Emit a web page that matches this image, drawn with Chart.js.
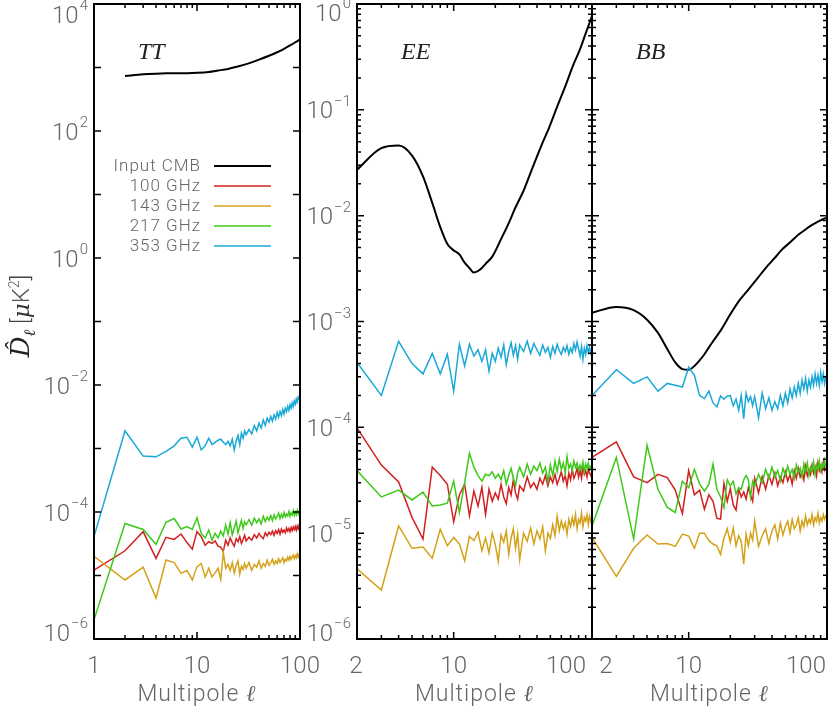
<!DOCTYPE html>
<html><head><meta charset="utf-8">
<script src="https://cdn.jsdelivr.net/npm/chart.js@4"></script>
<style>
html,body{margin:0;padding:0;background:#fff;}
#wrap{position:relative;width:830px;height:710px;overflow:hidden;background:#fff;}
#wrap canvas{position:absolute;left:0;top:0;}
</style></head><body>
<div id="wrap">
<canvas id="cTT" width="830" height="710"></canvas>
<canvas id="cEE" width="830" height="710"></canvas>
<canvas id="cBB" width="830" height="710"></canvas>
</div>
<script>
// ---------------- DATA ----------------
const seriesNames = ['Input CMB','100 GHz','143 GHz','217 GHz','353 GHz'];
const panelNames = ['TT','EE','BB'];
const xAxisTitle = 'Multipole ';
const ellSymbol = 'ℓ';

const ellTT = [1,2,3,4,5,6,7,8,9,10,11,12,13,14,15,16,17,18,19,20,21,22,23,24,25,26,27,28,29,30,
  32,34,36,38,40,42,44,46,48,50,52,54,56,58,60,62,64,66,68,70,72,74,76,78,80,82,84,86,88,90,92,94,96,98,100];
const ellPol = [2,3,4,5,6,7,8,9,10,11,12,13,14,15,16,17,18,19,20,21,22,23,24,25,26,27,28,29,30,
  32,34,36,38,40,42,44,46,48,50,52,54,56,58,60,62,64,66,68,70,72,74,76,78,80,82,84,86,88,90,92,94,96,98,100];

const ellCmbTT = [2,3,4,5,6,8,10,13,16,20,25,30,40,50,60,70,80,90,100];
const cmbTT = [735,780,800,810,812,815,825,850,895,950,1040,1130,1330,1530,1740,1970,2230,2500,2780];
const ellCmbEE = [2,3,4,5,6,7,8,9,10,11,12,13,14,15,16,17,19,22,25,28,32,37,43,49,56,65,73,81,90,100];
const cmbEE = [0.0272,0.0435,0.046,0.037,0.0235,0.0132,0.0078,0.0054,0.0047,0.0043,
  0.0036,0.0032,0.0029,0.0030,0.0032,0.0035,0.0041,0.0060,0.0085,0.012,
  0.0172,0.028,0.0457,0.068,0.107,0.175,0.263,0.36,0.527,0.77];
const ellCmbBB = [2,3,4,5,6,7,8,9,10,11,12,13,14,15,17,20,23,27,31,36,42,47,55,62,70,77,86,96,100];
const cmbBB = [1.21e-3,1.37e-3,1.28e-3,1.04e-3,7.8e-4,5.5e-4,4.1e-4,3.55e-4,3.5e-4,3.8e-4,4.3e-4,4.9e-4,5.7e-4,6.5e-4,
  8.2e-4,1.17e-3,1.55e-3,2.0e-3,2.5e-3,3.2e-3,4.0e-3,4.75e-3,5.7e-3,6.6e-3,7.4e-3,8.1e-3,8.8e-3,9.4e-3,9.6e-3];

// TT noise
const tt100 = [1.22e-5,2.45e-5,4.9e-5,1.86e-5,4.0e-5,3.7e-5,4.5e-5,3.3e-5,2.6e-5,4.9e-5,
  4.1e-5,3.0e-5,3.4e-5,3.2e-5,3.5e-5,2.9e-5,2.8e-5,2.4e-5,3.6e-5,3.0e-5,
  3.9e-5,3.3e-5,2.9e-5,3.8e-5,3.4e-5,4.1e-5,3.2e-5,3.7e-5,4.3e-5,3.5e-5,
  4.0e-5,3.6e-5,4.4e-5,3.9e-5,4.6e-5,4.1e-5,3.8e-5,4.7e-5,4.2e-5,4.8e-5,
  4.4e-5,5.0e-5,4.3e-5,5.1e-5,4.6e-5,5.3e-5,4.5e-5,5.4e-5,4.8e-5,5.2e-5,
  4.7e-5,5.6e-5,5.0e-5,5.5e-5,4.9e-5,5.7e-5,5.1e-5,5.8e-5,5.3e-5,5.9e-5,
  5.2e-5,6.0e-5,5.4e-5,6.1e-5,5.6e-5];
const tt143 = [2.0e-5,8.5e-6,1.35e-5,4.4e-6,1.75e-5,1.6e-5,1.08e-5,1.2e-5,8.5e-6,1.38e-5,
  1.55e-5,9.5e-6,1.3e-5,9.5e-6,1.1e-5,1.3e-5,8.7e-6,2.3e-5,1.3e-5,1.5e-5,
  1.2e-5,1.6e-5,1.1e-5,1.45e-5,1.7e-5,1.05e-5,1.4e-5,1.25e-5,1.55e-5,1.3e-5,
  1.6e-5,1.2e-5,1.5e-5,1.35e-5,1.7e-5,1.3e-5,1.55e-5,1.4e-5,1.75e-5,1.45e-5,
  1.6e-5,1.8e-5,1.5e-5,1.7e-5,1.55e-5,1.85e-5,1.6e-5,1.75e-5,1.9e-5,1.6e-5,
  1.8e-5,1.7e-5,1.95e-5,1.75e-5,2.0e-5,1.8e-5,1.95e-5,2.1e-5,1.85e-5,2.05e-5,
  1.9e-5,2.2e-5,1.95e-5,2.15e-5,2.1e-5];
const tt217 = [2.0e-6,6.6e-5,5.3e-5,3.1e-5,6.9e-5,7.9e-5,5.4e-5,5.9e-5,5.3e-5,8.1e-5,
  4.6e-5,3.9e-5,5.2e-5,3.6e-5,4.6e-5,3.9e-5,5.0e-5,4.2e-5,6.2e-5,4.5e-5,
  6.8e-5,4.4e-5,5.6e-5,7.2e-5,4.7e-5,6.0e-5,7.4e-5,5.5e-5,7.0e-5,6.3e-5,
  7.6e-5,6.2e-5,8.0e-5,6.8e-5,7.8e-5,6.5e-5,8.6e-5,7.1e-5,8.3e-5,7.4e-5,
  8.8e-5,7.3e-5,9.0e-5,7.8e-5,8.5e-5,9.6e-5,7.9e-5,9.2e-5,8.2e-5,9.8e-5,
  8.4e-5,9.3e-5,8.7e-5,1.02e-4,8.6e-5,9.7e-5,9.0e-5,1.05e-4,8.9e-5,1.0e-4,
  9.1e-5,1.06e-4,9.3e-5,1.02e-4,9.5e-5];
const tt353 = [4.1e-5,1.9e-3,7.6e-4,7.4e-4,9.0e-4,1.1e-3,1.45e-3,1.5e-3,1.05e-3,1.5e-3,
  9.5e-4,1.1e-3,1.45e-3,1.15e-3,1.25e-3,1.35e-3,1.4e-3,1.25e-3,1.15e-3,1.3e-3,
  1.1e-3,1.4e-3,9.5e-4,1.3e-3,1.6e-3,1.15e-3,1.75e-3,1.45e-3,1.9e-3,1.65e-3,
  2.0e-3,1.7e-3,2.3e-3,1.9e-3,2.5e-3,2.1e-3,2.8e-3,2.3e-3,3.0e-3,2.6e-3,
  3.2e-3,2.7e-3,3.4e-3,2.9e-3,3.7e-3,3.1e-3,3.8e-3,3.3e-3,4.1e-3,3.5e-3,
  4.3e-3,3.8e-3,4.6e-3,4.0e-3,4.9e-3,4.3e-3,5.2e-3,4.6e-3,5.6e-3,5.0e-3,
  6.0e-3,5.4e-3,6.4e-3,6.0e-3,7.0e-3];

// EE noise
const ee100 = [9.9e-5,4.4e-5,3.05e-5,1.41e-5,8.8e-6,4.2e-5,3.5e-5,2.9e-5,1.28e-5,
  2.3e-5,2.9e-5,1.46e-5,2.5e-5,1.8e-5,2.7e-5,1.5e-5,2.6e-5,2.0e-5,2.4e-5,
  2.1e-5,2.9e-5,2.2e-5,1.9e-5,2.7e-5,2.3e-5,3.2e-5,2.4e-5,2.1e-5,2.8e-5,
  2.5e-5,3.4e-5,2.7e-5,3.0e-5,2.6e-5,3.3e-5,2.9e-5,3.5e-5,2.8e-5,3.4e-5,
  3.0e-5,3.6e-5,2.9e-5,3.3e-5,3.8e-5,3.1e-5,3.5e-5,2.8e-5,3.7e-5,3.2e-5,
  4.0e-5,3.3e-5,3.6e-5,4.1e-5,3.4e-5,3.9e-5,3.3e-5,4.2e-5,3.6e-5,3.9e-5,
  3.4e-5,4.0e-5,3.7e-5,3.5e-5,3.8e-5];
const ee143 = [4.6e-6,2.9e-6,1.17e-5,7.2e-6,7.4e-6,5.8e-6,1.09e-5,7.6e-6,9.1e-6,
  7.9e-6,5.5e-6,9.3e-6,8.5e-6,1.02e-5,6.8e-6,9.0e-6,6.5e-6,1.0e-5,7.8e-6,
  5.4e-6,9.6e-6,8.2e-6,1.05e-5,6.3e-6,9.0e-6,1.1e-5,7.2e-6,9.8e-6,5.6e-6,
  1.0e-5,8.4e-6,1.12e-5,7.9e-6,1.05e-5,8.8e-6,1.15e-5,6.8e-6,1.0e-5,8.9e-6,
  1.2e-5,9.5e-6,1.45e-5,1.05e-5,1.3e-5,1.1e-5,1.25e-5,9.8e-6,1.35e-5,1.15e-5,
  1.4e-5,1.2e-5,1.5e-5,1.1e-5,1.35e-5,1.25e-5,1.55e-5,1.15e-5,1.4e-5,1.3e-5,
  1.5e-5,1.2e-5,1.45e-5,1.3e-5,1.4e-5];
const ee217 = [3.9e-5,2.2e-5,2.55e-5,2.06e-5,2.45e-5,1.81e-5,1.85e-5,1.92e-5,3.1e-5,
  1.57e-5,3.0e-5,5.7e-5,4.2e-5,3.5e-5,3.1e-5,3.6e-5,3.5e-5,3.8e-5,3.3e-5,
  3.6e-5,3.2e-5,3.9e-5,2.9e-5,3.5e-5,4.1e-5,3.3e-5,2.8e-5,3.7e-5,4.2e-5,
  3.4e-5,4.5e-5,3.6e-5,4.3e-5,3.9e-5,4.6e-5,3.7e-5,4.2e-5,3.1e-5,4.4e-5,
  3.5e-5,4.8e-5,3.8e-5,5.0e-5,4.0e-5,4.6e-5,3.7e-5,5.3e-5,4.1e-5,4.5e-5,
  3.9e-5,4.8e-5,4.2e-5,4.6e-5,3.9e-5,4.4e-5,4.0e-5,4.7e-5,3.8e-5,4.5e-5,
  4.1e-5,4.6e-5,4.0e-5,4.3e-5,4.2e-5];
const ee353 = [4.1e-4,2.0e-4,6.5e-4,4.0e-4,3.2e-4,5.0e-4,3.2e-4,4.9e-4,2.2e-4,
  6.1e-4,3.8e-4,6.1e-4,4.7e-4,5.4e-4,4.2e-4,5.4e-4,3.4e-4,5.0e-4,4.2e-4,
  5.6e-4,4.6e-4,6.0e-4,3.9e-4,5.2e-4,6.3e-4,4.8e-4,5.9e-4,4.4e-4,6.0e-4,
  5.2e-4,6.5e-4,5.0e-4,6.2e-4,5.4e-4,4.8e-4,6.0e-4,5.1e-4,5.7e-4,4.6e-4,
  5.8e-4,5.0e-4,6.1e-4,5.3e-4,4.9e-4,5.7e-4,5.2e-4,5.9e-4,4.9e-4,5.6e-4,
  5.1e-4,6.2e-4,5.4e-4,6.4e-4,5.5e-4,4.7e-4,5.8e-4,4.4e-4,5.6e-4,4.9e-4,
  5.9e-4,5.1e-4,5.7e-4,5.0e-4,5.5e-4];

// BB noise
const bb100 = [5.2e-5,7.3e-5,3.4e-5,3.0e-5,3.6e-5,3.35e-5,2.55e-5,1.53e-5,3.9e-5,
  2.3e-5,2.55e-5,1.68e-5,2.3e-5,2.0e-5,1.38e-5,1.36e-5,2.95e-5,2.0e-5,2.64e-5,
  1.84e-5,1.65e-5,2.6e-5,2.2e-5,2.45e-5,2.1e-5,2.7e-5,2.3e-5,2.0e-5,3.3e-5,
  2.4e-5,3.4e-5,2.6e-5,3.5e-5,2.9e-5,3.7e-5,2.8e-5,3.4e-5,3.0e-5,3.8e-5,
  3.1e-5,3.6e-5,2.9e-5,3.9e-5,3.3e-5,4.1e-5,3.4e-5,3.8e-5,3.2e-5,4.3e-5,
  3.5e-5,4.0e-5,3.6e-5,4.4e-5,3.7e-5,4.2e-5,3.5e-5,4.6e-5,3.9e-5,4.3e-5,
  3.8e-5,4.7e-5,4.0e-5,4.5e-5,4.6e-5];
const bb143 = [9.1e-6,3.9e-6,7.2e-6,9.6e-6,7.9e-6,8.0e-6,7.5e-6,9.8e-6,9.4e-6,
  7.2e-6,1.0e-5,1.0e-5,8.5e-6,7.9e-6,7.6e-6,6.3e-6,9.0e-6,1.1e-5,8.2e-6,
  1.12e-5,7.6e-6,9.5e-6,8.3e-6,5.1e-6,9.8e-6,7.6e-6,1.0e-5,8.6e-6,1.3e-5,
  7.5e-6,9.5e-6,1.1e-5,8.0e-6,1.05e-5,1.2e-5,8.8e-6,1.25e-5,9.6e-6,1.15e-5,
  1.3e-5,1.0e-5,1.35e-5,1.1e-5,1.2e-5,1.4e-5,1.05e-5,1.3e-5,1.15e-5,1.45e-5,
  1.2e-5,1.35e-5,1.25e-5,1.5e-5,1.2e-5,1.4e-5,1.3e-5,1.55e-5,1.25e-5,1.4e-5,
  1.3e-5,1.5e-5,1.35e-5,1.45e-5,1.4e-5];
const bb217 = [1.17e-5,5.2e-5,8.8e-6,6.8e-5,2.6e-5,1.75e-5,1.57e-5,3.1e-5,2.7e-5,
  4.0e-5,2.9e-5,2.5e-5,2.9e-5,4.5e-5,2.6e-5,2.2e-5,1.75e-5,3.2e-5,2.8e-5,
  3.1e-5,2.35e-5,2.7e-5,2.6e-5,3.2e-5,3.5e-5,3.2e-5,2.2e-5,3.1e-5,2.8e-5,
  3.6e-5,3.0e-5,4.0e-5,3.3e-5,4.2e-5,3.4e-5,3.9e-5,3.1e-5,4.1e-5,3.5e-5,
  4.3e-5,3.6e-5,4.0e-5,3.3e-5,4.4e-5,3.7e-5,4.1e-5,3.4e-5,4.5e-5,3.8e-5,
  4.6e-5,3.5e-5,4.2e-5,3.9e-5,4.7e-5,3.6e-5,4.4e-5,4.0e-5,4.8e-5,3.9e-5,
  4.5e-5,4.2e-5,4.9e-5,4.1e-5,4.4e-5];
const bb353 = [2.0e-4,3.5e-4,2.6e-4,3.0e-4,2.2e-4,2.6e-4,2.5e-4,2.4e-4,3.7e-4,
  3.1e-4,2.0e-4,1.87e-4,2.2e-4,1.7e-4,1.56e-4,1.98e-4,1.84e-4,1.98e-4,2.0e-4,
  1.6e-4,1.85e-4,1.45e-4,2.0e-4,1.21e-4,2.1e-4,1.75e-4,1.95e-4,1.6e-4,1.95e-4,
  1.23e-4,2.1e-4,1.5e-4,1.9e-4,1.45e-4,1.75e-4,1.5e-4,2.0e-4,1.6e-4,2.1e-4,
  1.7e-4,2.3e-4,1.9e-4,2.4e-4,2.0e-4,2.6e-4,2.1e-4,2.8e-4,2.3e-4,2.9e-4,
  2.2e-4,2.8e-4,2.4e-4,3.0e-4,2.5e-4,3.2e-4,2.6e-4,3.1e-4,2.5e-4,3.3e-4,
  2.7e-4,3.2e-4,2.6e-4,3.0e-4,2.9e-4];

// tick labels
const yLabelExpTT = [-6,-4,-2,0,2,4];
const yLabelExpPol = [-6,-5,-4,-3,-2,-1,0];
const yLabelExpNone = [];
const xLabelValTT = [1,10,100];
const xLabelTxtTT = ['1','10','100'];
const xLabelValPol = [2,10,100];
const xLabelTxtPol = ['2','10','100'];

// ---------------- STYLE ----------------
const seriesColors = ['#000000','#d21f1f','#d4a21a','#3ec81a','#1aa8d6'];
const LABEL_COLOR = '#666666';
const SANS = 'Roboto, "Liberation Sans", sans-serif';

const panels = [
  {id:'cTT', left:94, right:300, xMin:1, xMax:100, yMin:1e-6, yMax:1e4, yMinor:false, labelTopPad:10,
   title:panelNames[0], legend:true, yTitle:true, yLab:yLabelExpTT, xVal:xLabelValTT, xTxt:xLabelTxtTT, xDx:[0,0,0],
   cmb:[ellCmbTT,cmbTT], noise:[[ellTT,tt100],[ellTT,tt143],[ellTT,tt217],[ellTT,tt353]]},
  {id:'cEE', left:357, right:592, xMin:2, xMax:100, yMin:1e-6, yMax:1, yMinor:true, labelTopPad:8,
   title:panelNames[1], legend:false, yTitle:false, yLab:yLabelExpPol, xVal:xLabelValPol, xTxt:xLabelTxtPol, xDx:[-1,0,-26],
   cmb:[ellCmbEE,cmbEE], noise:[[ellPol,ee100],[ellPol,ee143],[ellPol,ee217],[ellPol,ee353]]},
  {id:'cBB', left:592, right:827, xMin:2, xMax:100, yMin:1e-6, yMax:1, yMinor:true, labelTopPad:8,
   title:panelNames[2], legend:false, yTitle:false, yLab:yLabelExpNone, xVal:xLabelValPol, xTxt:xLabelTxtPol, xDx:[14,0,-21],
   cmb:[ellCmbBB,cmbBB], noise:[[ellPol,bb100],[ellPol,bb143],[ellPol,bb217],[ellPol,bb353]]}
];

function pts(ells, vals){ return ells.map((l,i)=>({x:l, y:vals[i]})); }

function logTicks(min, max, minor){
  const out = [];
  const d0 = Math.floor(Math.log10(min)-1e-9), d1 = Math.ceil(Math.log10(max)+1e-9);
  for (let d=d0; d<=d1; d++){
    for (let m=1; m<=9; m++){
      if (!minor && m>1) continue;
      const v = m*Math.pow(10,d);
      if (v >= min*0.999 && v <= max*1.001) out.push({value:v, major:m===1});
    }
  }
  return out;
}

function setSpacing(ctx, s){ if ('letterSpacing' in ctx) ctx.letterSpacing = s; }

function drawPow(ctx, xr, yc, exp){
  const e = exp < 0 ? '\u2212' + Math.abs(exp) : String(exp);
  setSpacing(ctx, '0px');
  ctx.font = '300 24px ' + SANS;
  const w1 = ctx.measureText('10').width;
  ctx.font = '300 15px ' + SANS;
  const w2 = ctx.measureText(e).width;
  ctx.textAlign = 'left'; ctx.textBaseline = 'alphabetic';
  ctx.fillStyle = LABEL_COLOR;
  ctx.font = '300 24px ' + SANS;
  ctx.fillText('10', xr - w2 - w1 - 1, yc + 8.5);
  ctx.font = '300 15px ' + SANS;
  ctx.fillText(e, xr - w2, yc - 4);
}

function makeDeco(p, idx){
  return {
    id: 'deco' + idx,
    afterDraw(chart){
      const ctx = chart.ctx, a = chart.chartArea, x = chart.scales.x, y = chart.scales.y;
      ctx.save();
      // tick marks (inside, all four sides)
      ctx.strokeStyle = '#000'; ctx.lineWidth = 1.5; ctx.lineCap = 'butt';
      ctx.beginPath();
      for (const t of x.ticks){
        const px = x.getPixelForValue(t.value);
        const L = t.major ? 7 : 4;
        ctx.moveTo(px, a.bottom); ctx.lineTo(px, a.bottom - L);
        ctx.moveTo(px, a.top); ctx.lineTo(px, a.top + L);
      }
      for (const t of y.ticks){
        const py = y.getPixelForValue(t.value);
        const L = t.major ? 7 : 4;
        ctx.moveTo(a.left, py); ctx.lineTo(a.left + L, py);
        ctx.moveTo(a.right, py); ctx.lineTo(a.right - L, py);
      }
      ctx.stroke();
      // frame
      ctx.lineWidth = 2;
      ctx.strokeRect(a.left, a.top, a.right - a.left, a.bottom - a.top);

      // y tick labels
      for (const ex of p.yLab){
        const py = y.getPixelForValue(Math.pow(10, ex));
        const yc = Math.min(Math.max(py, a.top + p.labelTopPad), a.bottom - 7);
        drawPow(ctx, a.left - 6, yc, ex);
      }
      // x tick labels
      setSpacing(ctx, '0px');
      ctx.fillStyle = LABEL_COLOR; ctx.textAlign = 'center'; ctx.textBaseline = 'alphabetic';
      ctx.font = '300 24px ' + SANS;
      p.xVal.forEach((v,i)=>{
        const px = x.getPixelForValue(v) + p.xDx[i];
        ctx.fillText(p.xTxt[i], px, 673);
      });
      // x axis title
      const cx = (a.left + a.right)/2;
      setSpacing(ctx, '1px');
      ctx.font = '300 23px ' + SANS;
      const wA = ctx.measureText(xAxisTitle).width;
      ctx.font = 'italic 23px "DejaVu Serif", serif';
      const wB = ctx.measureText(ellSymbol).width;
      const x0 = cx - (wA + wB)/2;
      ctx.textAlign = 'left';
      ctx.font = '300 23px ' + SANS;
      ctx.fillText(xAxisTitle, x0, 701);
      ctx.font = 'italic 23px "DejaVu Serif", serif';
      ctx.fillText(ellSymbol, x0 + wA, 701);
      setSpacing(ctx, '0px');

      // panel title
      ctx.fillStyle = '#222';
      ctx.font = 'italic 24px "Liberation Serif", "DejaVu Serif", serif';
      ctx.textAlign = 'left';
      ctx.fillText(p.title, a.left + 44, 59);

      // legend
      if (p.legend){
        const rows = [166,186,206,226,246];
        setSpacing(ctx, '1px');
        ctx.font = '300 17px ' + SANS;
        ctx.textAlign = 'right'; ctx.textBaseline = 'middle';
        seriesNames.forEach((n,i)=>{
          ctx.fillStyle = LABEL_COLOR;
          ctx.fillText(n, 201, rows[i] + 1);
          ctx.strokeStyle = seriesColors[i]; ctx.lineWidth = i === 0 ? 2 : 1.6;
          ctx.beginPath(); ctx.moveTo(214, rows[i]); ctx.lineTo(271, rows[i]); ctx.stroke();
        });
        setSpacing(ctx, '0px');
      }
      // y axis title
      if (p.yTitle){
        ctx.save();
        ctx.translate(21, 316);
        ctx.rotate(-Math.PI/2);
        const parts = [
          {t:'D\u0302', f:'italic 26px "DejaVu Serif", serif', dy:0, c:'#222'},
          {t:ellSymbol, f:'italic 16px "DejaVu Serif", serif', dy:6, c:'#222'},
          {t:' [', f:'300 24px ' + SANS, dy:0, c:'#444'},
          {t:'\u03bc', f:'italic 23px "DejaVu Serif", serif', dy:0, c:'#333'},
          {t:'K', f:'300 24px ' + SANS, dy:0, c:'#555'},
          {t:'2', f:'300 14px ' + SANS, dy:-10, c:'#555'},
          {t:']', f:'300 24px ' + SANS, dy:0, c:'#444'}
        ];
        let tot = 0;
        parts.forEach(q=>{ ctx.font = q.f; q.w = ctx.measureText(q.t).width; tot += q.w; });
        let xx = -tot/2;
        ctx.textAlign = 'left'; ctx.textBaseline = 'alphabetic';
        parts.forEach(q=>{ ctx.font = q.f; ctx.fillStyle = q.c; ctx.fillText(q.t, xx, 8 + q.dy); xx += q.w; });
        ctx.restore();
      }
      ctx.restore();
    }
  };
}

panels.forEach((p, idx)=>{
  const datasets = [{
    label: seriesNames[0], data: pts(p.cmb[0], p.cmb[1]), borderColor: seriesColors[0],
    borderWidth: 2, order: 5, cubicInterpolationMode: 'monotone', tension: 0.4
  }];
  p.noise.forEach((s,i)=> datasets.push({
    label: seriesNames[i+1], data: pts(s[0], s[1]), borderColor: seriesColors[i+1],
    borderWidth: 1.5, order: 4 - i
  }));
  new Chart(document.getElementById(p.id), {
    type: 'line',
    data: {datasets},
    options: {
      responsive: false, animation: false, maintainAspectRatio: false,
      layout: {padding: {left: p.left, right: 830 - p.right, top: 4, bottom: 0}},
      elements: {point: {radius: 0, hoverRadius: 0}, line: {fill: false}},
      plugins: {legend: {display: false}, tooltip: {enabled: false}},
      events: [],
      scales: {
        x: {type: 'logarithmic', min: p.xMin, max: p.xMax,
            grid: {display: false}, border: {display: false}, ticks: {display: false},
            afterFit: s => { s.height = 71; },
            afterBuildTicks: s => { s.ticks = logTicks(p.xMin, p.xMax, true); }},
        y: {type: 'logarithmic', min: p.yMin, max: p.yMax,
            grid: {display: false}, border: {display: false}, ticks: {display: false},
            afterFit: s => { s.width = 0; },
            afterBuildTicks: s => { s.ticks = logTicks(p.yMin, p.yMax, p.yMinor); }}
      }
    },
    plugins: [makeDeco(p, idx)]
  });
});
</script>
</body></html>
